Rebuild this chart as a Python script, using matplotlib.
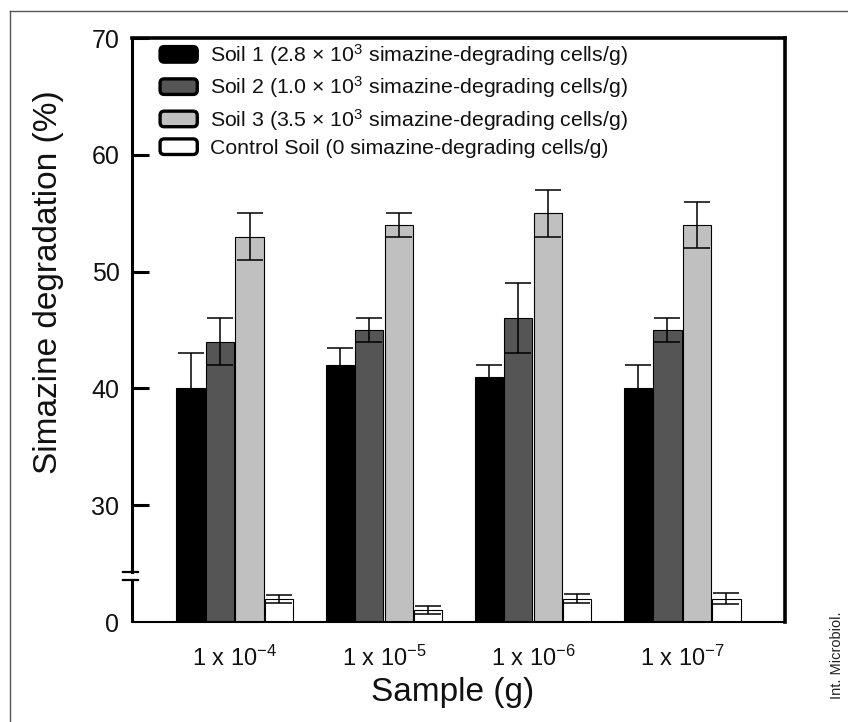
import matplotlib
matplotlib.use("Agg")
import matplotlib.pyplot as plt
import numpy as np
from matplotlib.patches import Patch, FancyBboxPatch
from matplotlib.legend_handler import HandlerPatch
from matplotlib.lines import Line2D
import matplotlib.transforms as mtransforms

plt.rcParams['font.family'] = ['Liberation Sans', 'DejaVu Sans']
plt.rcParams['mathtext.fontset'] = 'custom'
plt.rcParams['mathtext.rm'] = 'Liberation Sans'
plt.rcParams['mathtext.it'] = 'Liberation Sans'
plt.rcParams['mathtext.bf'] = 'Liberation Sans'
plt.rcParams['mathtext.default'] = 'regular'

# ---- data ----
categories = [r'1 x 10$^{-4}$', r'1 x 10$^{-5}$', r'1 x 10$^{-6}$', r'1 x 10$^{-7}$']
soil1 = [40, 42, 41, 40]
soil1_err = [3, 1.5, 1, 2]
soil2 = [44, 45, 46, 45]
soil2_err = [2, 1, 3, 1]
soil3 = [53, 54, 55, 54]
soil3_err = [2, 1, 2, 2]
control = [2.0, 1.0, 2.0, 2.0]
control_err = [0.35, 0.35, 0.4, 0.5]

series_labels = [
    r'Soil 1 (2.8 × 10$^{3}$ simazine-degrading cells/g)',
    r'Soil 2 (1.0 × 10$^{3}$ simazine-degrading cells/g)',
    r'Soil 3 (3.5 × 10$^{3}$ simazine-degrading cells/g)',
    'Control Soil (0 simazine-degrading cells/g)',
]
colors = ['#000000', '#555555', '#c0c0c0', '#ffffff']
yticks = [30, 40, 50, 60, 70]

BASE = 20  # broken-axis origin: displayed "0"

fig = plt.figure(figsize=(8.48, 7.22), dpi=100)
W, H = 848, 722
ax = fig.add_axes([132 / W, (H - 622) / H, 653 / W, 584 / H])

x = np.arange(len(categories))
slot = 0.198
bw = 0.19
offsets = np.array([-1.5, -0.5, 0.5, 1.5]) * slot

vals = [soil1, soil2, soil3]
errs = [soil1_err, soil2_err, soil3_err]
ekw = dict(ecolor='black', elinewidth=1.1, capsize=9.5, capthick=1.1)
for i in range(3):
    v = np.array(vals[i], dtype=float)
    ax.bar(x + offsets[i], v - BASE, bottom=BASE, width=bw, color=colors[i],
           edgecolor='black', linewidth=0.8, zorder=2)
    ax.errorbar(x + offsets[i], v, yerr=errs[i], fmt='none', zorder=3, **ekw)

c = np.array(control, dtype=float)
ax.bar(x + offsets[3], c, bottom=BASE, width=bw, color=colors[3],
       edgecolor='black', linewidth=0.8, zorder=2)
ax.errorbar(x + offsets[3], BASE + c, yerr=control_err, fmt='none', zorder=3, **ekw)

ax.set_xlim(-0.69, 3.69)
ax.set_ylim(BASE, 70)

ax.set_yticks([BASE] + yticks)
ax.set_yticklabels(['0'] + [str(t) for t in yticks])
ax.tick_params(axis='y', direction='in', length=12, width=2.2, labelsize=18,
               pad=9, labelcolor='#111111')
ax.yaxis.get_major_ticks()[0].tick1line.set_visible(False)
ax.set_xticks(x)
ax.set_xticklabels(categories)
ax.tick_params(axis='x', length=0, labelsize=17, pad=17, labelcolor='#111111')

for s, lw in [('left', 2.2), ('top', 2.6), ('right', 2.6), ('bottom', 1.5)]:
    ax.spines[s].set_linewidth(lw)
    ax.spines[s].set_color('black')

# axis break on the left spine
brk_lo, brk_hi = 23.6, 24.3
ax.spines['left'].set_bounds(brk_hi, 70)
trans = mtransforms.blended_transform_factory(ax.transAxes, ax.transData)
ax.plot([0, 0], [BASE, brk_lo], transform=trans, color='black', lw=2.2,
        clip_on=False, solid_capstyle='butt', zorder=5)
for yb in (brk_lo, brk_hi):
    ax.plot([-0.014, 0.009], [yb, yb], transform=trans, color='black', lw=1.6,
            clip_on=False, zorder=5)

ax.set_ylabel('Simazine degradation (%)', fontsize=24, color='#111111')
ax.yaxis.set_label_coords(-0.104, 0.582)
ax.set_xlabel('Sample (g)', fontsize=24, color='#111111')
ax.xaxis.set_label_coords(0.4916, -0.094)


class RoundHandler(HandlerPatch):
    def create_artists(self, legend, orig_handle, xdescent, ydescent, width,
                       height, fontsize, trans):
        p = FancyBboxPatch((-xdescent, -ydescent), width, height,
                           boxstyle="round,pad=0,rounding_size=3",
                           facecolor=orig_handle.get_facecolor(),
                           edgecolor='black', lw=2.4, transform=trans)
        return [p]


handles = [Patch(facecolor=colors[i], edgecolor='black') for i in range(4)]
leg = ax.legend(handles, series_labels, loc='upper left',
                bbox_to_anchor=(0.043, 0.993), frameon=False, fontsize=15.3,
                handlelength=1.75, handleheight=0.75, handletextpad=0.6,
                labelspacing=0.3, borderpad=0, borderaxespad=0,
                handler_map={Patch: RoundHandler()})
for t in leg.get_texts():
    t.set_color('#111111')

# outer frame lines
fig.add_artist(Line2D([10 / W, 1], [1 - 11 / H, 1 - 11 / H], color='#555555', lw=1))
fig.add_artist(Line2D([10 / W, 10 / W], [0, 1 - 11 / H], color='#555555', lw=1))

fig.text(837 / W, 1 - 655 / H, 'Int. Microbiol.', rotation=90, fontsize=10.5,
         ha='center', va='center', color='#222222')

fig.savefig('out.png', dpi=100)
